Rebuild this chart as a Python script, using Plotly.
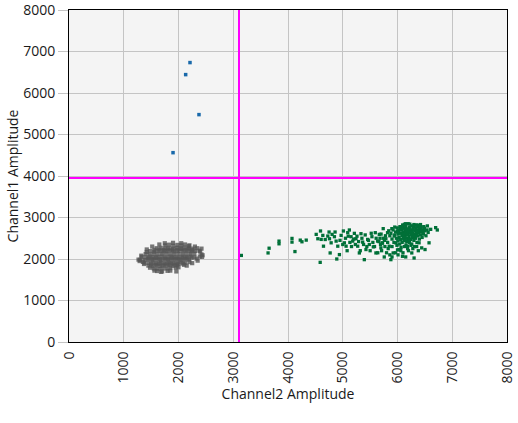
import plotly.graph_objects as go

# Thresholds (data units)
threshold_ch2 = 3105
threshold_ch1 = 3950

# Blue cluster (Ch1+ only)
blue_x = [2210, 2131, 2374, 1900]
blue_y = [6733, 6443, 5479, 4562]

# Green cluster (Ch2+ only)
green_x = [3636, 3655, 3836, 3836, 4073, 4073, 4127, 4224, 4255, 4333, 4588, 4594, 4515, 4545,
           4606, 4636, 4648, 4727, 4758, 4788, 4770, 4806, 4848, 4879, 4909, 4891, 4939, 4970,
           5012, 5030, 5061, 5091, 5121, 5152, 5182, 5212, 5242, 5273, 5303, 5333, 5364, 5394,
           5424, 5455, 5485, 5533, 5558, 5594, 5606, 5636, 5667, 5697, 5727, 5739, 5758, 5788,
           5818, 5848, 5879, 5897, 5921, 5939, 5970, 6000, 6030, 6061, 6091, 6103, 6127, 6152,
           6182, 6212, 6242, 6261, 6285, 6303, 6321, 6364, 6394, 6406, 6442, 6467, 6503, 6545,
           6576, 6606, 6697, 6727, 3148,
           5860, 5880, 5900, 5920, 5935, 5950, 5965, 5980, 5995, 6005, 6010, 6020, 6030, 6040,
           6045, 6055, 6060, 6070, 6080, 6085, 6095, 6100, 6110, 6115, 6120, 6130, 6135, 6140,
           6150, 6155, 6160, 6170, 6175, 6180, 6190, 6195, 6200, 6210, 6215, 6220, 6230, 6235,
           6240, 6250, 6255, 6260, 6270, 6275, 6285, 6290, 6300, 6305, 6315, 6320, 6330, 6340,
           6345, 6355, 6360, 6370, 6380, 6390, 6400, 6410, 6420, 6430, 6440, 6450, 6460, 6475,
           6490, 6500, 6520, 6540, 6560, 5990, 6065, 6125, 6185, 6245, 6310, 6060, 6000, 5900,
           5820, 5780, 5760, 5840, 5700, 5720, 5680, 6225, 6150, 6300, 6080, 5950, 6350, 6420,
           6480,
           4950, 5000, 5050, 5080, 5100, 5130, 5160, 5200, 5230, 5260, 5290, 5320, 5350, 5380,
           5410, 5440, 5470, 5500, 5520, 5550, 5580, 5610, 5640, 5660, 5690, 5710, 5740, 5770,
           5800, 5830, 5860, 5900, 5960, 6010, 6100, 6150, 6200, 6280, 6350, 6380, 4860, 4750,
           4680, 6110, 6190, 6270, 6330, 6050, 6170, 6240, 6130, 6210, 6290, 6370, 6020, 6160]
green_y = [2146, 2260, 2431, 2366, 2496, 2407, 2179, 2455, 2415, 2455, 1919, 2675, 2593, 2488,
           2472, 2569, 2309, 2553, 2488, 2390, 2146, 2593, 2537, 2431, 2309, 2000, 2106, 2569,
           2675, 2390, 2309, 2634, 2699, 2537, 2431, 2618, 2488, 2309, 2146, 2610, 2407, 1984,
           2228, 2472, 2350, 2537, 2293, 2634, 2146, 2431, 2593, 2268, 2390, 2732, 2049, 2488,
           2634, 2309, 1984, 2732, 2146, 2553, 2390, 2675, 2228, 2472, 2065, 2797, 2837, 2634,
           2309, 2732, 2472, 2146, 2756, 2024, 2593, 2813, 2390, 2715, 2268, 2634, 2228, 2797,
           2390, 2715, 2756, 2699, 2086,
           2560, 2620, 2480, 2700, 2400, 2580, 2650, 2500, 2750, 2440, 2600, 2680, 2520, 2360,
           2780, 2620, 2460, 2700, 2560, 2400, 2820, 2650, 2500, 2740, 2600, 2440, 2680, 2560,
           2780, 2340, 2620, 2500, 2710, 2590, 2450, 2850, 2660, 2540, 2760, 2400, 2620, 2700,
           2480, 2580, 2800, 2360, 2660, 2520, 2720, 2600, 2450, 2780, 2560, 2680, 2500, 2740,
           2620, 2400, 2700, 2560, 2780, 2640, 2480, 2720, 2580, 2760, 2660, 2520, 2700, 2600,
           2740, 2680, 2560, 2700, 2640, 2330, 2280, 2300, 2250, 2330, 2300, 2200, 2220, 2300,
           2400, 2560, 2450, 2680, 2600, 2380, 2500, 2840, 2850, 2830, 2760, 2770, 2820, 2830,
           2780,
           2450, 2350, 2500, 2200, 2550, 2400, 2300, 2480, 2350, 2550, 2420, 2200, 2500, 2350,
           2580, 2300, 2450, 2200, 2620, 2400, 2300, 2500, 2150, 2420, 2350, 2200, 2500, 2300,
           2150, 2250, 2100, 2050, 2150, 2100, 2150, 2050, 2200, 2250, 2300, 2200, 2650, 2650,
           2470, 2590, 2690, 2610, 2540, 2730, 2420, 2640, 2520, 2470, 2560, 2660, 2640, 2720]

# Gray cluster (double negative), rows of the blob plus ragged edge points
gray_x = [1760, 1830, 1905, 1980, 2050, 2120, 2190,
          1600, 1675, 1750, 1820, 1895, 1970, 2045, 2115, 2190, 2260, 2340,
          1480, 1555, 1630, 1705, 1780, 1850, 1925, 2000, 2075, 2150, 2225, 2300, 2395,
          1400, 1475, 1550, 1620, 1695, 1770, 1845, 1920, 1995, 2070, 2140, 2215, 2290, 2420,
          1330, 1405, 1480, 1550, 1625, 1700, 1775, 1850, 1920, 1995, 2070, 2145, 2220, 2290, 2390,
          1300, 1380, 1450, 1525, 1600, 1675, 1750, 1820, 1895, 1970, 2045, 2120, 2190, 2330,
          1380, 1455, 1530, 1600, 1675, 1750, 1825, 1900, 1970, 2045, 2120, 2200,
          1450, 1525, 1600, 1670, 1745, 1820, 1895, 1970, 2100,
          1550, 1625, 1700, 1775, 1850, 1950,
          1610, 1700, 1800,
          1560, 1650, 1730, 1810, 1890, 1970, 2040, 2110, 2180, 2250,
          1450, 1520, 1590, 1660, 1740, 1810, 1880, 1950, 2020, 2090, 2160, 2240,
          1500, 1580, 1650, 1720, 1790, 1860, 1930, 2000, 2080,
          1270, 2440, 2380, 1350, 1420,
          1290, 1320, 1370, 1420, 1480, 1520, 1560, 1650, 1680, 1750, 1850, 1900, 2000, 2050,
          2150, 2250, 2300, 2350, 2420, 2430, 1960, 2200]
gray_y = [2330, 2345, 2320, 2340, 2330, 2350, 2310,
          2260, 2270, 2255, 2265, 2250, 2270, 2260, 2275, 2265, 2250, 2260,
          2190, 2180, 2195, 2185, 2190, 2200, 2185, 2195, 2190, 2200, 2185, 2195, 2180,
          2120, 2110, 2125, 2115, 2120, 2130, 2115, 2125, 2120, 2110, 2125, 2120, 2130, 2110,
          2050, 2040, 2055, 2045, 2050, 2060, 2045, 2055, 2050, 2040, 2055, 2050, 2060, 2045, 2060,
          1980, 1975, 1990, 1980, 1985, 1975, 1990, 1980, 1985, 1990, 1980, 1995, 1985, 2010,
          1910, 1905, 1915, 1900, 1910, 1905, 1915, 1910, 1905, 1915, 1910, 1925,
          1840, 1835, 1845, 1830, 1840, 1845, 1835, 1845, 1860,
          1770, 1765, 1775, 1770, 1780, 1790,
          1710, 1700, 1715,
          2220, 2225, 2215, 2230, 2220, 2225, 2235, 2225, 2230, 2215,
          2015, 2010, 2020, 2005, 2015, 2010, 2020, 2015, 2010, 2020, 2025, 2030,
          1875, 1870, 1880, 1870, 1875, 1880, 1870, 1880, 1890,
          1985, 2090, 2200, 1930, 2170,
          1950, 2080, 1880, 2230, 1790, 2300, 1720, 2350, 1690, 2380, 1720, 2390, 1800, 2380,
          1840, 1900, 2300, 1960, 2250, 2050, 1700, 2330]

x_ticks = [0, 1000, 2000, 3000, 4000, 5000, 6000, 7000, 8000]
y_ticks = [0, 1000, 2000, 3000, 4000, 5000, 6000, 7000, 8000]

fig = go.Figure()
fig.add_trace(go.Scatter(x=gray_x, y=gray_y, mode="markers",
                         marker=dict(symbol="square", size=4.2, color="rgb(85,85,85)",
                                     opacity=0.8, line=dict(width=0)),
                         hoverinfo="skip", showlegend=False))
fig.add_trace(go.Scatter(x=green_x, y=green_y, mode="markers",
                         marker=dict(symbol="square", size=3.3, color="rgb(0,112,56)",
                                     line=dict(width=0)),
                         hoverinfo="skip", showlegend=False))
fig.add_trace(go.Scatter(x=blue_x, y=blue_y, mode="markers",
                         marker=dict(symbol="square", size=3.5, color="rgb(25,105,170)",
                                     line=dict(width=0)),
                         hoverinfo="skip", showlegend=False))

fig.add_shape(type="line", xref="x", yref="paper", x0=threshold_ch2, x1=threshold_ch2,
              y0=0, y1=1, line=dict(color="#FF00FF", width=2))
fig.add_shape(type="line", xref="paper", yref="y", x0=0, x1=1,
              y0=threshold_ch1, y1=threshold_ch1, line=dict(color="#FF00FF", width=2))

font = "Open Sans, Noto Sans, DejaVu Sans, sans-serif"
fig.update_layout(
    width=518, height=423,
    margin=dict(l=69, r=11, t=10, b=81),
    paper_bgcolor="white", plot_bgcolor="#f4f4f4",
    font=dict(family=font, size=14, color="#1a1a1a"),
    xaxis=dict(range=[0, 8000], tickvals=x_ticks, ticktext=[str(v) for v in x_ticks],
               tickangle=-90, showgrid=True, gridcolor="#c4c4c4", gridwidth=1,
               zeroline=False, showline=True, linecolor="black", linewidth=1, mirror=True,
               ticks="", ticklabelstandoff=3, automargin=False, ticklabeloverflow="allow",
               title=dict(text="Channel2 Amplitude", font=dict(size=14), standoff=3)),
    yaxis=dict(range=[0, 8000], tickvals=y_ticks, ticktext=[str(v) for v in y_ticks],
               showgrid=True, gridcolor="#c4c4c4", gridwidth=1,
               zeroline=False, showline=True, linecolor="black", linewidth=1, mirror=True,
               ticks="outside", ticklen=10, tickcolor="#c4c4c4", automargin=False,
               ticklabeloverflow="allow",
               title=dict(text="Channel1 Amplitude", font=dict(size=14), standoff=1)),
)
fig.write_html("out.html", config={"displayModeBar": False},
               post_script="document.body.style.margin='0';")
